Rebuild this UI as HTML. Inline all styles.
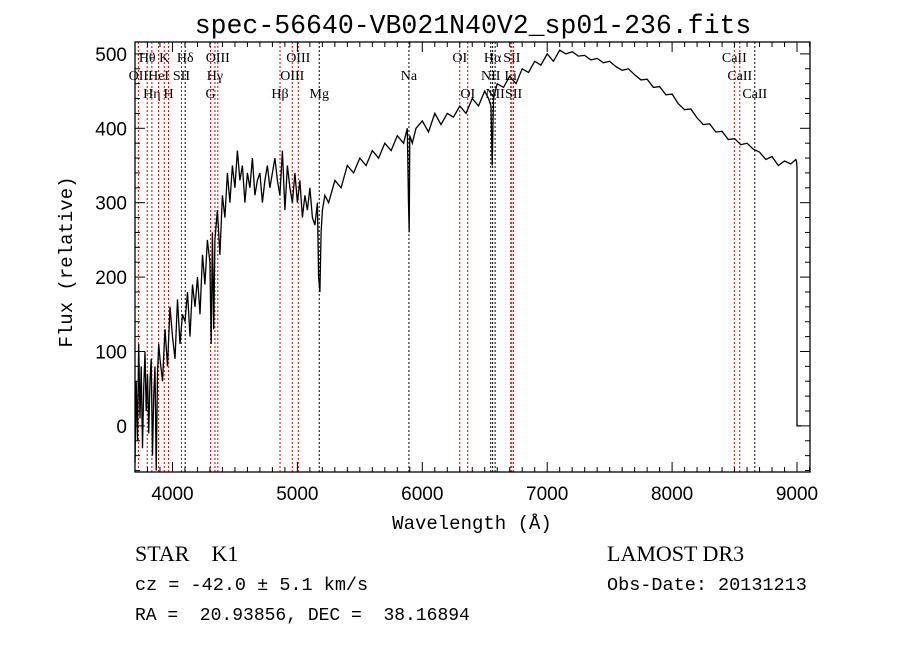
<!DOCTYPE html>
<html><head><meta charset="utf-8"><style>
body{margin:0;background:#fff;}
svg{display:block;font-family:"Liberation Serif",serif;}
text{white-space:pre;}
</style></head><body>
<svg id="c" width="900" height="649" xmlns="http://www.w3.org/2000/svg" xml:space="preserve">
<text x="473" y="33" text-anchor="middle" font-family="Liberation Mono, monospace" font-size="26.5">spec-56640-VB021N40V2_sp01-236.fits</text>
<text transform="translate(72,262) rotate(-90)" text-anchor="middle" font-family="Liberation Mono, monospace" font-size="19">Flux (relative)</text>
<text x="472" y="529" text-anchor="middle" font-family="Liberation Mono, monospace" font-size="19">Wavelength (Å)</text>
<g id="lines"></g><g id="spec"></g><g id="axes"></g>
<text x="135" y="561" font-size="22">STAR    K1</text>
<text x="607" y="561" font-size="22">LAMOST DR3</text>
<text x="135" y="590" font-family="Liberation Mono, monospace" font-size="18.5">cz = -42.0 ± 5.1 km/s</text>
<text x="607" y="590" font-family="Liberation Mono, monospace" font-size="18.5">Obs-Date: 20131213</text>
<text x="135" y="620" font-family="Liberation Mono, monospace" font-size="18">RA =  20.93856, DEC =  38.16894</text>
</svg>
<script>
const waves=[3700,3710,3720,3730,3740,3750,3760,3770,3780,3790,3800,3810,3820,3830,3840,3850,3860,3870,3880,3890,3900,3920,3940,3960,3980,4000,4020,4040,4060,4080,4100,4120,4140,4160,4180,4200,4220,4240,4260,4280,4300,4310,4320,4330,4340,4360,4380,4400,4420,4440,4460,4480,4500,4520,4540,4560,4580,4600,4620,4640,4660,4680,4700,4720,4740,4760,4780,4800,4820,4840,4860,4880,4900,4920,4940,4960,4980,5000,5020,5040,5060,5080,5100,5120,5140,5160,5170,5180,5190,5200,5220,5250,5300,5350,5400,5450,5500,5550,5600,5650,5700,5750,5800,5850,5880,5890,5895,5900,5920,5950,6000,6050,6100,6150,6200,6250,6300,6350,6400,6450,6500,6530,6550,6560,6570,6600,6650,6700,6750,6800,6850,6900,6950,7000,7050,7100,7150,7200,7250,7300,7350,7400,7450,7500,7550,7600,7650,7700,7750,7800,7850,7900,7950,8000,8050,8100,8150,8200,8250,8300,8350,8400,8450,8500,8550,8600,8650,8700,8750,8800,8850,8900,8950,8990,8995,9000];
const flux=[-50,60,-20,110,10,80,-30,50,100,20,70,-10,60,90,-40,40,80,-60,70,110,90,60,130,80,160,120,90,170,110,150,140,180,120,190,160,200,150,230,190,250,220,110,260,130,250,290,230,310,280,340,300,350,320,370,330,350,300,340,320,360,310,330,340,300,330,350,320,340,360,330,310,370,290,350,320,300,340,300,330,280,310,290,320,280,270,300,200,180,260,290,310,300,330,320,350,340,360,350,370,360,380,370,390,380,400,300,260,390,380,400,410,395,420,405,420,415,430,420,440,430,450,440,430,350,440,460,455,470,460,480,475,490,485,500,490,505,500,503,497,498,492,494,488,490,483,478,480,472,465,466,455,456,445,446,433,425,426,414,405,406,395,396,385,386,378,380,372,368,358,362,350,356,352,358,356,348,70];
const lineWaves=[3727,3798,3835,3889,3934,3969,4072,4102,4305,4340,4363,4861,4959,5007,5175,5893,6300,6364,6548,6563,6583,6708,6717,6731,8498,8542,8662];
const lineLabels=["OII","Hθ","Hη","HeI","K","H","SII","Hδ","G","Hγ","OIII","Hβ","OIII","OIII","Mg","Na","OI","OI","NII","Hα","NII","Li","SII","SII","CaII","CaII","CaII"];
const lineRows=[2,1,3,2,1,3,2,1,3,2,1,3,2,1,3,2,1,3,2,1,3,2,1,3,1,2,3];
const lineBlack=[0,0,0,0,0,0,0,1,0,0,0,0,0,0,1,1,0,0,1,1,1,0,0,0,0,0,1];
const xTicks=[4000,5000,6000,7000,8000,9000];
const yTicks=[0,100,200,300,400,500];
const L=135,R=810,T=42,B=472,X0=3700,X1=9104,Y0=-62,Y1=516;
const sx=w=>L+(w-X0)/(X1-X0)*(R-L), sy=v=>B-(v-Y0)/(Y1-Y0)*(B-T);
const NS="http://www.w3.org/2000/svg";
function mk(t,a,p){const e=document.createElementNS(NS,t);for(const k in a)e.setAttribute(k,a[k]);p.appendChild(e);return e;}
const lg=document.getElementById('lines');
lineWaves.forEach((w,i)=>{
 const l=mk('line',{x1:sx(w),x2:sx(w),y1:T,y2:B,stroke:lineBlack[i]?'#000':'#c00','stroke-width':1,'stroke-dasharray':'2,2'},lg);
 
 
 const t=mk('text',{x:sx(w),y:62+(lineRows[i]-1)*18,'text-anchor':'middle','font-size':14},lg);
 t.textContent=lineLabels[i];
 
 
});
const sg=document.getElementById('spec');
let d=waves.map((w,i)=>(i?'L':'M')+sx(w).toFixed(1)+','+sy(flux[i]).toFixed(1)).join(' ');
d+=' L'+sx(9000).toFixed(1)+','+sy(0).toFixed(1)+' L'+(sx(9000)+4).toFixed(1)+','+sy(0).toFixed(1);
const p=mk('path',{d:d,fill:'none',stroke:'#000','stroke-width':1.3},sg);


const ag=document.getElementById('axes');
const fr=mk('rect',{x:L,y:T,width:R-L,height:B-T,fill:'none',stroke:'#000','stroke-width':1.3},ag);


for(let w=3800;w<=9100;w+=100){const maj=w%1000===0,h=maj?10:5;
 mk('line',{x1:sx(w),x2:sx(w),y1:B,y2:B-h,stroke:'#000'},ag);
 mk('line',{x1:sx(w),x2:sx(w),y1:T,y2:T+h,stroke:'#000'},ag);}
for(let v=-60;v<=500;v+=20){const maj=v%100===0,h=maj?10:5;
 mk('line',{x1:L,x2:L+h,y1:sy(v),y2:sy(v),stroke:'#000'},ag);
 mk('line',{x1:R,x2:R-h,y1:sy(v),y2:sy(v),stroke:'#000'},ag);}
xTicks.forEach(w=>{const t=mk('text',{x:sx(w),y:B+28,'text-anchor':'middle','font-family':'Liberation Sans, sans-serif','font-size':19},ag);t.textContent=w;
 
 });
yTicks.forEach(v=>{const t=mk('text',{x:L-8,y:sy(v)+7,'text-anchor':'end','font-family':'Liberation Sans, sans-serif','font-size':19},ag);t.textContent=v;
 
 });
</script>
</body></html>
